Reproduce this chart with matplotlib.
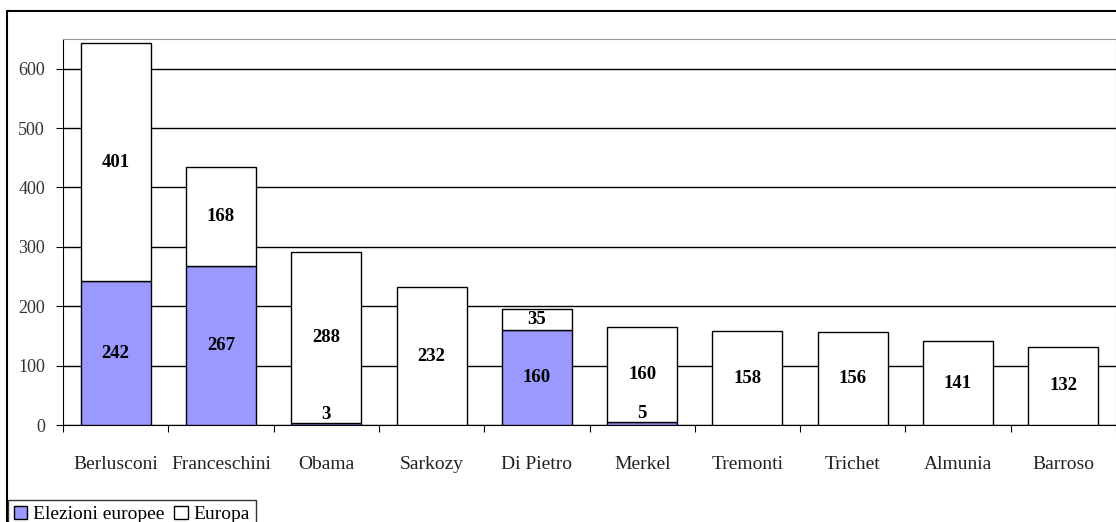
import numpy as np
import matplotlib.pyplot as plt
from matplotlib.patches import Rectangle, Patch

names = ["Berlusconi", "Franceschini", "Obama", "Sarkozy", "Di Pietro",
         "Merkel", "Tremonti", "Trichet", "Almunia", "Barroso"]
elezioni = [242, 267, 3, 0, 160, 5, 0, 0, 0, 0]
europa = [401, 168, 288, 232, 35, 160, 158, 156, 141, 132]
yticks = [0, 100, 200, 300, 400, 500, 600]

plt.rcParams['font.family'] = ['Liberation Serif', 'DejaVu Serif']

fig = plt.figure(figsize=(11.16, 5.22), dpi=100)
ax = fig.add_axes([63 / 1116, 1 - 425 / 522, 1 - 63 / 1116, (425 - 39) / 522])

x = np.arange(len(names))
w = 0.665
ax.bar(x, elezioni, w, color="#9999FF", edgecolor="black", linewidth=1, zorder=3)
ax.bar(x, europa, w, bottom=elezioni, color="white", edgecolor="black", linewidth=1, zorder=3)

# data labels (small segments go just above their segment)
def put_label(xi, bottom, h):
    if h <= 0:
        return
    if h < 20:
        ax.annotate(str(h), (xi, bottom + h), xytext=(0, 0), textcoords="offset points",
                    ha="center", va="bottom", fontsize=13.5, fontweight="bold", zorder=5)
    else:
        ax.text(xi, bottom + h / 2, str(h), ha="center", va="center",
                fontsize=13.5, fontweight="bold", zorder=5)

for i in range(len(names)):
    put_label(x[i], 0, elezioni[i])
    put_label(x[i], elezioni[i], europa[i])

ax.set_xlim(-0.5, len(names) - 0.5)
ax.set_ylim(0, 650)
ax.set_yticks(yticks)
ax.set_yticklabels([str(v) for v in yticks], fontsize=13, color="#333333")
ax.yaxis.grid(True, color="black", linewidth=1, zorder=0)
ax.set_axisbelow(True)

# category tick marks between bars, names centered
ax.set_xticks(np.arange(len(names) + 1) - 0.5)
ax.set_xticklabels([])
ax.set_xticks(x, minor=True)
ax.set_xticklabels(names, minor=True, fontsize=14, color="#222222")
ax.tick_params(axis="x", which="minor", length=0, pad=22)
ax.tick_params(axis="x", which="major", length=5, direction="out", color="black")
ax.tick_params(axis="y", length=5, direction="out", color="black", pad=8)

for s in ["top", "right"]:
    ax.spines[s].set_color("#999999")
ax.spines["left"].set_color("black")
ax.spines["bottom"].set_color("black")

# outer chart frame
fig.patches.append(Rectangle((7 / 1116, -0.05), 1.2, 1 - 11 / 522 + 0.05,
                             transform=fig.transFigure, fill=False,
                             edgecolor="black", linewidth=1.5))

handles = [Patch(facecolor="#9999FF", edgecolor="black", label="Elezioni europee"),
           Patch(facecolor="white", edgecolor="black", label="Europa")]
leg = fig.legend(handles=handles, loc="lower left", bbox_to_anchor=(8 / 1116, -0.014),
                 ncol=2, fontsize=14, frameon=True, fancybox=False,
                 handlelength=0.7, handleheight=0.7, handletextpad=0.3,
                 columnspacing=0.5, borderpad=0.3, borderaxespad=0)
leg.get_frame().set_edgecolor("black")
leg.get_frame().set_linewidth(1)

fig.savefig("out.png", dpi=100)
